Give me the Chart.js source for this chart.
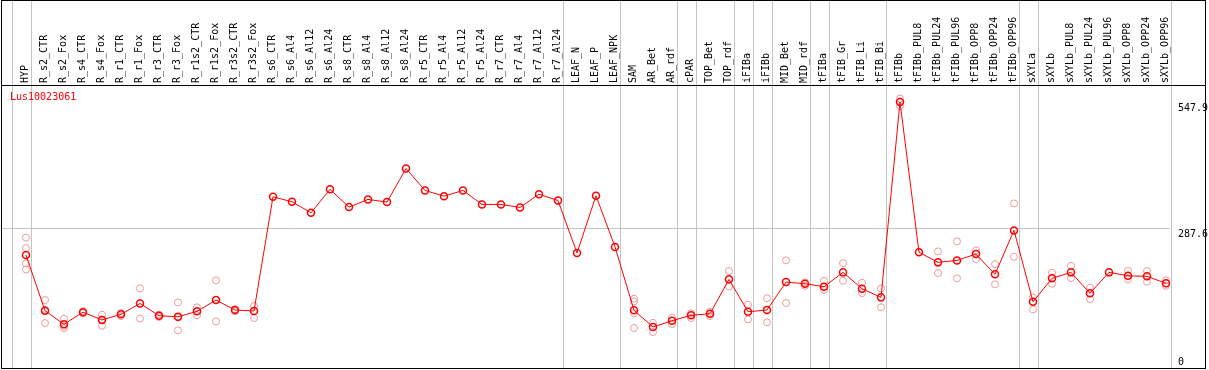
<!DOCTYPE html>
<html>
<head>
<meta charset="utf-8">
<script src="https://cdn.jsdelivr.net/npm/chart.js@4/dist/chart.umd.min.js"></script>
<style>
  body { margin: 0; background: #fff; }
  #wrap { width: 1209px; height: 370px; position: relative; }
</style>
</head>
<body>
<div id="wrap"><canvas id="chart"></canvas></div>
<script>
const geneName = 'Lus10023061'

const categories = ['HYP', 'R_s2_CTR', 'R_s2_Fox', 'R_s4_CTR', 'R_s4_Fox', 'R_r1_CTR', 'R_r1_Fox',
    'R_r3_CTR', 'R_r3_Fox', 'R_r1s2_CTR', 'R_r1s2_Fox', 'R_r3s2_CTR', 'R_r3s2_Fox',
    'R_s6_CTR', 'R_s6_Al4', 'R_s6_Al12', 'R_s6_Al24', 'R_s8_CTR', 'R_s8_Al4', 'R_s8_Al12', 'R_s8_Al24',
    'R_r5_CTR', 'R_r5_Al4', 'R_r5_Al12', 'R_r5_Al24', 'R_r7_CTR', 'R_r7_Al4', 'R_r7_Al12', 'R_r7_Al24',
    'LEAF_N', 'LEAF_P', 'LEAF_NPK', 'SAM', 'AR_Bet', 'AR_rdf', 'cPAR', 'TOP_Bet', 'TOP_rdf',
    'iFIBa', 'iFIBb', 'MID_Bet', 'MID_rdf', 'tFIBa', 'tFIB_Gr', 'tFIB_Li', 'tFIB_Bi',
    'tFIBb', 'tFIBb_PUL8', 'tFIBb_PUL24', 'tFIBb_PUL96', 'tFIBb_OPP8', 'tFIBb_OPP24', 'tFIBb_OPP96',
    'sXYLa', 'sXYLb', 'sXYLb_PUL8', 'sXYLb_PUL24', 'sXYLb_PUL96', 'sXYLb_OPP8', 'sXYLb_OPP24', 'sXYLb_OPP96']

// mean expression per sample
const means = [232.7, 118, 90, 115, 99, 110.5, 133, 107.7, 105.6, 116.7, 140, 119.4, 117.4,
    352.7, 342.4, 319.8, 368, 331.5, 347.3, 341.8, 411, 365.8, 354, 365.8, 337, 337, 330.8, 358, 345,
    237, 354.8, 249.5, 118.8, 84.4, 97.4, 108.5, 111.8, 182.6, 116, 119.4, 177, 173.6,
    167.4, 197, 163.3, 145.5, 547.9, 238.5, 217.6, 221.7, 234.7, 192.9, 283.5,
    136.5, 184.7, 197, 153.8, 197, 190, 188.8, 174.4]

// individual replicates (empty where none are shown)
const replicates = [
    [268.6, 247, 215.5, 203], [140, 92.6, 120], [101.5, 82, 86], [117, 113], [109.7, 87, 100],
    [113, 107], [164, 102], [110, 105], [135, 77.6, 104], [125, 108.5], [180.5, 96], [121, 117], [127.6, 103],
    [], [], [], [], [], [], [], [], [], [], [], [], [], [], [], [], [], [], [],
    [142.7, 137, 112.6, 82.4], [93, 74], [103.6, 90.6], [112.6, 103], [116, 107], [199.7, 168],
    [130.3, 100], [143.5, 94], [221.7, 133.8], [176.4, 169.5], [179.8, 160.6], [216, 179.8],
    [175.6, 154.4], [164, 125], [555, 539.4], [], [240.2, 195.6], [260.8, 184.7], [242.3, 224.4],
    [214, 172.3], [339, 229.2], [145.5, 120.8], [196.2, 173.6], [210.6, 185.3], [165.3, 142], [],
    [200.3, 182.6], [199.7, 177.7], [180.5, 169.5]]

// last sample index of each group (separator drawn just after it)
const groupEnds = [-1, 0, 28, 31, 34, 35, 37, 38, 39, 41, 42, 45, 52, 53]

const yTicks = [0, 287.6, 547.9]
const yTickLabels = ['0', '287.6', '547.9']

const red = '#ff0000'
const pink = '#ee9a9a'
const gray = '#c4c4c4'
const mono = 'DejaVu Sans Mono'

const meanPoints = means.map((v, i) => ({ x: i, y: v }))
const repPoints = []
replicates.forEach((reps, i) => reps.forEach(v => repPoints.push({ x: i, y: v })))

const frame = {
    id: 'frame',
    beforeDatasetsDraw(chart) {
        const ctx = chart.ctx
        const xs = chart.scales.x
        ctx.save()
        ctx.strokeStyle = gray
        ctx.lineWidth = 1
        groupEnds.concat([categories.length - 1]).forEach(g => {
            const px = Math.round(xs.getPixelForValue(g + 0.24)) + 0.5
            ctx.beginPath()
            ctx.moveTo(px, 0)
            ctx.lineTo(px, chart.chartArea.bottom)
            ctx.stroke()
        })
        ctx.restore()
    },
    afterDraw(chart) {
        const ctx = chart.ctx
        const a = chart.chartArea
        ctx.save()
        ctx.strokeStyle = '#000'
        ctx.lineWidth = 1
        ctx.strokeRect(1.5, 0.5, 1204, a.bottom)
        ctx.beginPath()
        ctx.moveTo(1, a.top + 0.5)
        ctx.lineTo(1205, a.top + 0.5)
        ctx.stroke()
        ctx.fillStyle = red
        ctx.font = '10px ' + mono
        ctx.textBaseline = 'middle'
        ctx.fillText(geneName, 10, a.top + 12)
        ctx.restore()
    }
}

const noPad = s => { s.paddingLeft = 0; s.paddingRight = 0; s.paddingTop = 0; s.paddingBottom = 0 }

const xMin = -25 / 19
const xMax = xMin + 1169 / 19

new Chart(document.getElementById('chart'), {
    type: 'line',
    data: {
        datasets: [{
            data: meanPoints,
            borderColor: red,
            borderWidth: 1,
            pointRadius: 3.5,
            pointBorderWidth: 1.5,
            pointBorderColor: red,
            pointBackgroundColor: 'rgba(0,0,0,0)',
            tension: 0
        }, {
            data: repPoints,
            showLine: false,
            pointRadius: 3.5,
            pointBorderWidth: 1,
            pointBorderColor: pink,
            pointBackgroundColor: 'rgba(0,0,0,0)'
        }]
    },
    options: {
        responsive: true,
        maintainAspectRatio: false,
        animation: false,
        layout: { autoPadding: false, padding: { left: 1, top: 0, right: 0, bottom: 2 } },
        plugins: { legend: { display: false }, tooltip: { enabled: false } },
        scales: {
            x: {
                type: 'linear',
                position: 'top',
                min: xMin,
                max: xMax,
                afterBuildTicks: s => { s.ticks = categories.map((c, i) => ({ value: i })) },
                afterFit: s => { s.height = 85; noPad(s) },
                ticks: {
                    autoSkip: false,
                    minRotation: 90,
                    maxRotation: 90,
                    padding: 2,
                    labelOffset: 11,
                    color: '#000',
                    font: { family: mono, size: 10 },
                    callback: (v, i) => categories[i]
                },
                grid: { display: false, drawTicks: false },
                border: { display: false }
            },
            y: {
                position: 'right',
                min: 0,
                max: 583,
                afterBuildTicks: s => { s.ticks = yTicks.map(v => ({ value: v })) },
                afterFit: s => { s.width = 39; noPad(s) },
                ticks: {
                    padding: 8,
                    color: '#000',
                    font: { family: mono, size: 10 },
                    callback: (v, i) => i === 0 ? [yTickLabels[i], ''] : ['', yTickLabels[i]]
                },
                grid: {
                    drawTicks: false,
                    color: c => (c.tick && c.tick.value === 287.6) ? gray : 'rgba(0,0,0,0)'
                },
                border: { display: false }
            }
        }
    },
    plugins: [frame]
})
</script>
</body>
</html>
